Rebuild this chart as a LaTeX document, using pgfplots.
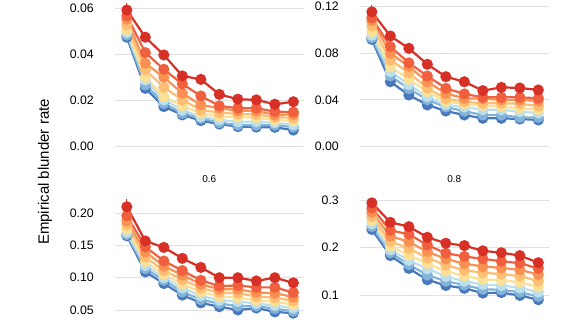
\documentclass[border=0pt]{standalone}
\usepackage{pgfplots}
\usepackage{pgfplotstable}
\pgfplotsset{compat=1.18}
\usepackage{fontspec}
\setmainfont{Liberation Sans}

\definecolor{c1}{HTML}{D73027}
\definecolor{c2}{HTML}{F0603F}
\definecolor{c3}{HTML}{F89152}
\definecolor{c4}{HTML}{FDBD72}
\definecolor{c5}{HTML}{FCE095}
\definecolor{c6}{HTML}{BCDFEC}
\definecolor{c7}{HTML}{82B4DA}
\definecolor{c8}{HTML}{4A78BC}

% columns: x, c1 (red) ... c8 (blue), e = error of red series
\pgfplotstableread{
x c1 c2 c3 c4 c5 c6 c7 c8 e
1 0.0593 0.0568 0.0553 0.0528 0.0506 0.0495 0.0484 0.0475 0.0030
2 0.0475 0.0408 0.0362 0.0333 0.0301 0.0289 0.0268 0.0253 0.0020
3 0.0398 0.0336 0.0301 0.0258 0.0217 0.0203 0.0188 0.0174 0.0016
4 0.0307 0.0272 0.0232 0.0203 0.0177 0.0159 0.0145 0.0138 0.0010
5 0.0292 0.0220 0.0181 0.0159 0.0145 0.0130 0.0123 0.0113 0.0010
6 0.0227 0.0177 0.0167 0.0148 0.0130 0.0116 0.0104 0.0098 0.0008
7 0.0206 0.0167 0.0156 0.0142 0.0128 0.0108 0.0094 0.0087 0.0008
8 0.0203 0.0167 0.0155 0.0140 0.0126 0.0108 0.0093 0.0085 0.0008
9 0.0184 0.0152 0.0138 0.0128 0.0116 0.0104 0.0094 0.0084 0.0008
10 0.0195 0.0150 0.0140 0.0125 0.0112 0.0095 0.0085 0.0072 0.0008
}\tA

\pgfplotstableread{
x c1 c2 c3 c4 c5 c6 c7 c8 e
1 0.1150 0.1100 0.1075 0.1030 0.0980 0.0950 0.0930 0.0915 0.0060
2 0.0944 0.0853 0.0797 0.0740 0.0682 0.0640 0.0603 0.0554 0.0040
3 0.0839 0.0715 0.0685 0.0630 0.0575 0.0530 0.0495 0.0441 0.0040
4 0.0703 0.0603 0.0554 0.0500 0.0469 0.0426 0.0400 0.0356 0.0030
5 0.0597 0.0498 0.0455 0.0410 0.0384 0.0356 0.0338 0.0304 0.0025
6 0.0554 0.0450 0.0412 0.0384 0.0364 0.0338 0.0303 0.0270 0.0020
7 0.0478 0.0421 0.0410 0.0370 0.0350 0.0315 0.0270 0.0242 0.0015
8 0.0506 0.0421 0.0399 0.0370 0.0341 0.0315 0.0270 0.0242 0.0015
9 0.0501 0.0421 0.0399 0.0366 0.0327 0.0298 0.0250 0.0236 0.0015
10 0.0484 0.0413 0.0390 0.0347 0.0315 0.0287 0.0250 0.0228 0.0015
}\tB

\pgfplotstableread{
x c1 c2 c3 c4 c5 c6 c7 c8 e
1 0.210 0.196 0.188 0.182 0.175 0.170 0.167 0.165 0.012
2 0.157 0.148 0.140 0.132 0.125 0.119 0.114 0.109 0.007
3 0.147 0.126 0.118 0.111 0.105 0.100 0.096 0.091 0.006
4 0.130 0.111 0.104 0.097 0.090 0.084 0.078 0.073 0.005
5 0.116 0.096 0.090 0.084 0.078 0.072 0.066 0.061 0.004
6 0.100 0.087 0.082 0.077 0.071 0.065 0.060 0.055 0.003
7 0.100 0.088 0.082 0.076 0.069 0.063 0.056 0.050 0.003
8 0.095 0.085 0.077 0.071 0.065 0.060 0.056 0.053 0.003
9 0.100 0.085 0.076 0.069 0.063 0.057 0.052 0.047 0.003
10 0.092 0.077 0.070 0.064 0.058 0.053 0.048 0.045 0.003
}\tC

\pgfplotstableread{
x c1 c2 c3 c4 c5 c6 c7 c8 e
1 0.294 0.283 0.274 0.265 0.257 0.250 0.244 0.238 0.004
2 0.253 0.236 0.224 0.213 0.203 0.195 0.189 0.183 0.003
3 0.244 0.228 0.212 0.198 0.184 0.173 0.164 0.156 0.003
4 0.2215 0.205 0.191 0.178 0.166 0.155 0.142 0.132 0.003
5 0.209 0.188 0.176 0.163 0.150 0.139 0.129 0.120 0.003
6 0.204 0.181 0.166 0.152 0.140 0.129 0.121 0.114 0.003
7 0.193 0.176 0.160 0.147 0.133 0.122 0.112 0.104 0.003
8 0.189 0.171 0.157 0.144 0.131 0.120 0.111 0.105 0.003
9 0.183 0.167 0.153 0.140 0.127 0.115 0.106 0.099 0.003
10 0.168 0.156 0.143 0.129 0.117 0.106 0.097 0.090 0.003
}\tD

\pgfplotsset{
  panel/.style={
    scale only axis, width=188.5pt,
    xmin=0.36, xmax=10.55,
    axis line style={draw=none},
    major tick length=0pt,
    xtick=\empty,
    scaled y ticks=false,
    ymajorgrids,
    grid style={line width=0.8pt, draw=black!12},
    clip=false,
    anchor=south west,
    y tick label style={font=\fontsize{12.3}{14}\selectfont, inner sep=0pt, xshift=-21pt,
      /pgf/number format/fixed, /pgf/number format/fixed zerofill,
      /pgf/number format/precision=2, /pgf/number format/assume math mode=true},
    title style={font=\fontsize{10}{12}\selectfont, anchor=center, at={(0.5,1)}},
    every axis plot/.append style={line width=2.2pt, mark=*, mark size=4.4pt, mark options={solid}},
  },
}

\newcommand{\series}[1]{%
  \addplot[c8] table[x=x,y=c8]{#1};
  \addplot[c7] table[x=x,y=c7]{#1};
  \addplot[c6] table[x=x,y=c6]{#1};
  \addplot[c5] table[x=x,y=c5]{#1};
  \addplot[c4] table[x=x,y=c4]{#1};
  \addplot[c3] table[x=x,y=c3]{#1};
  \addplot[c2] table[x=x,y=c2]{#1};
  \addplot[c1, error bars/.cd, y dir=both, y explicit, error mark=none,
    error bar style={line width=1.3pt, c1}] table[x=x,y=c1,y error=e]{#1};
}

\begin{document}
\begin{tikzpicture}
\path[use as bounding box] (0pt,0pt) rectangle (577pt,324pt);
\clip (0pt,0pt) rectangle (577pt,324pt);

% top-left
\begin{axis}[panel, at={(115pt,165.8pt)}, height=161.3pt, ymin=-0.005, ymax=0.065,
  ytick={0,0.02,0.04,0.06}]
\series{\tA}
\end{axis}

% top-right
\begin{axis}[panel, at={(360pt,165.6pt)}, height=164.1pt, ymin=-0.01, ymax=0.13,
  ytick={0,0.04,0.08,0.12}]
\series{\tB}
\end{axis}

% bottom-left
\begin{axis}[panel, at={(115pt,-5.3pt)}, height=135.4pt, ymin=0.02, ymax=0.23,
  ytick={0.05,0.10,0.15,0.20}, title={0.6}, title style={yshift=9pt}]
\series{\tC}
\end{axis}

% bottom-right
\begin{axis}[panel, at={(360pt,-4.25pt)}, height=137.75pt, ymin=0.03, ymax=0.32,
  ytick={0.1,0.2,0.3}, y tick label style={/pgf/number format/precision=1},
  title={0.8}, title style={yshift=5.5pt}]
\series{\tD}
\end{axis}

\node[rotate=90, font=\fontsize{15}{18}\selectfont] at (45pt,152pt) {Empirical blunder rate};
\end{tikzpicture}
\end{document}
